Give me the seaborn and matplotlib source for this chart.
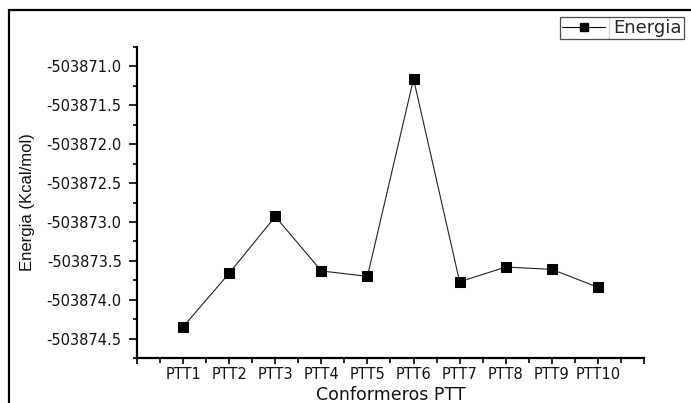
import numpy as np
import pandas as pd
import matplotlib
matplotlib.use("Agg")
import matplotlib.pyplot as plt
import seaborn as sns
from matplotlib.ticker import MultipleLocator, FuncFormatter
from matplotlib.lines import Line2D
from matplotlib.patches import Rectangle

categories = ["PTT1", "PTT2", "PTT3", "PTT4", "PTT5", "PTT6", "PTT7", "PTT8", "PTT9", "PTT10"]
energia = [-503874.35, -503873.66, -503872.93, -503873.63, -503873.70,
           -503871.16, -503873.77, -503873.58, -503873.61, -503873.84]
series_name = "Energia"
x_title = "Conformeros PTT"
y_title = "Energia (Kcal/mol)"

df = pd.DataFrame({"pos": np.arange(1, len(categories) + 1), "Energia": energia})

sns.set_theme(style="white")
plt.rcParams["font.family"] = ["DejaVu Sans"]

W, H = 691, 403
fig = plt.figure(figsize=(W / 100, H / 100), dpi=100)
ax = fig.add_axes([137 / W, 1 - 358 / H, (644 - 137) / W, (358 - 47) / H])

sns.lineplot(data=df, x="pos", y="Energia", ax=ax, color="#222222", linewidth=0.8,
             marker="s", markersize=6.5, markeredgecolor="black",
             markerfacecolor="black", label=series_name, legend=False)

ax.set_xlim(0, 11)
ax.set_ylim(-503874.75, -503870.75)

ax.set_xticks(np.arange(0, 12))
ax.set_xticklabels([""] + categories + [""])
ax.xaxis.set_minor_locator(MultipleLocator(0.5))
ax.yaxis.set_major_locator(MultipleLocator(0.5))
ax.yaxis.set_minor_locator(MultipleLocator(0.25))
ax.yaxis.set_major_formatter(FuncFormatter(lambda v, p: f"{v:.1f}".replace("\u2212", "-")))

for s in ["top", "right"]:
    ax.spines[s].set_visible(False)
for s in ["left", "bottom"]:
    ax.spines[s].set_color("black")
    ax.spines[s].set_linewidth(1.6)

ax.tick_params(axis="both", which="both", direction="out", color="black",
               left=True, bottom=True, width=1.2)
ax.tick_params(axis="y", which="major", length=6, pad=5, labelsize=10.5, labelcolor="#111111")
ax.tick_params(axis="y", which="minor", length=3)
ax.tick_params(axis="x", which="major", length=4.5, pad=2, labelsize=10.5, labelcolor="#111111")
ax.tick_params(axis="x", which="minor", length=3.5)

ax.set_xlabel(x_title, fontsize=12.5, color="#111111")
ax.xaxis.set_label_coords(0.5, -(395 - 358) / (358 - 47), transform=ax.transAxes)
ax.xaxis.label.set_va("center")
ax.set_ylabel(y_title, fontsize=12, color="#111111", family=["Liberation Sans", "DejaVu Sans"])
ax.yaxis.set_label_coords((27 - 137) / (644 - 137), 0.5)
ax.yaxis.label.set_va("center")
ax.grid(False)

# legend
handle = Line2D([], [], color="black", linewidth=0.8, marker="s", markersize=6,
                markerfacecolor="black", markeredgecolor="black")
leg = fig.legend([handle], [series_name], loc="upper right",
                 bbox_to_anchor=(684 / W, 1 - 17 / H), bbox_transform=fig.transFigure,
                 fontsize=13, frameon=True, fancybox=False, borderpad=0.12,
                 handlelength=2.4, handletextpad=0.45, borderaxespad=0.0)
leg.get_frame().set_edgecolor("#222222")
leg.get_frame().set_linewidth(0.9)
fig.canvas.draw()
bb = leg.get_window_extent()
txt_bb = leg.get_texts()[0].get_window_extent()
sep_px = txt_bb.x0 - 4
fig.add_artist(Line2D([sep_px / W, sep_px / W], [bb.y0 / H, bb.y1 / H], transform=fig.transFigure,
                      color="#222222", linewidth=0.9))

# outer frame
fig.add_artist(Rectangle((9 / W, -0.2), 1.5, 1.2 - 10 / H, transform=fig.transFigure,
                         fill=False, edgecolor="black", linewidth=1.6, clip_on=False))

fig.savefig("out.png", dpi=100)
